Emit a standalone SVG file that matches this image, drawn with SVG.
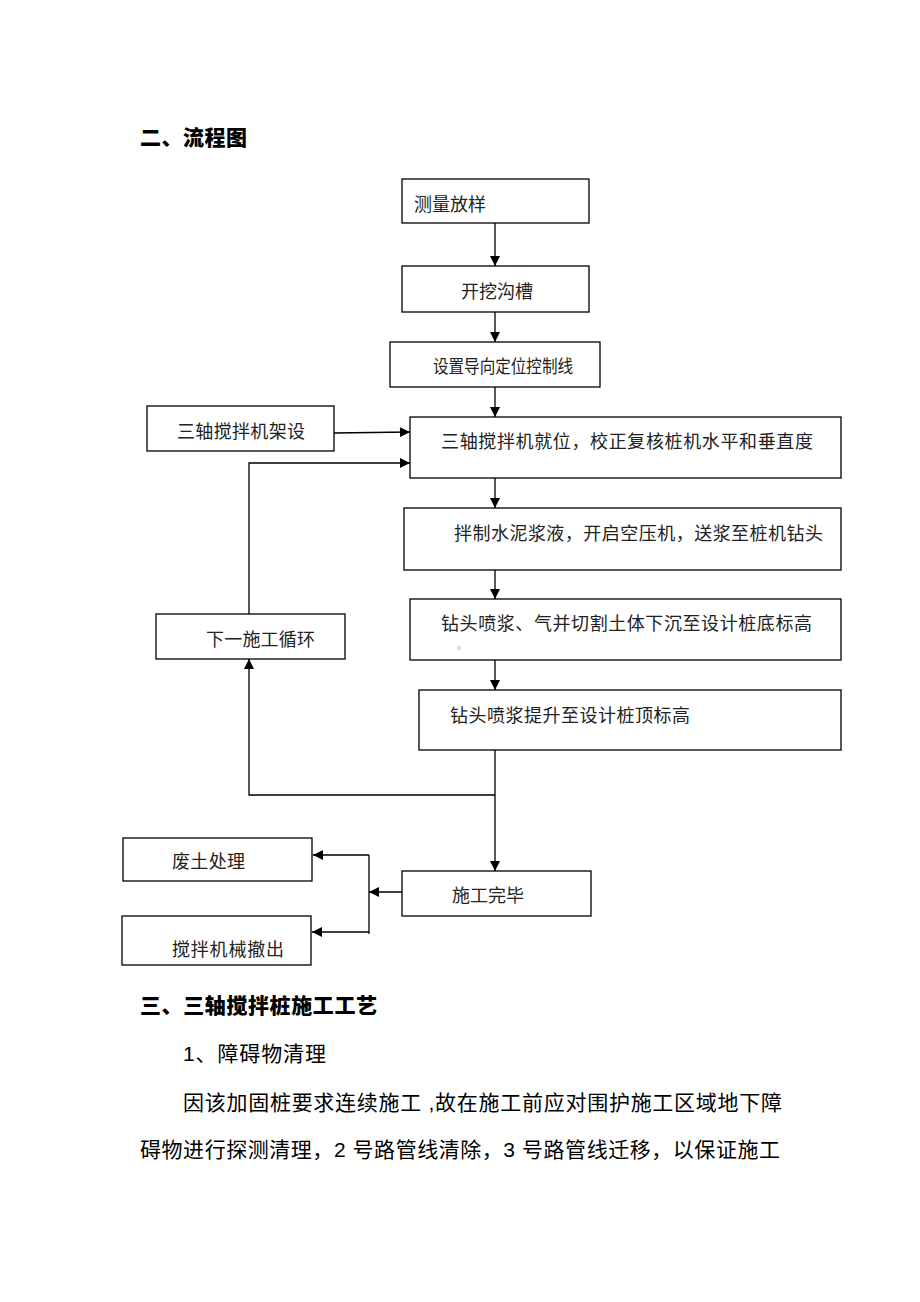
<svg xmlns="http://www.w3.org/2000/svg" width="920" height="1302" viewBox="0 0 920 1302">
<style>
.box{fill:#fff;stroke:#000;stroke-width:1.3}
.lbl{font-family:"Liberation Serif","Noto Sans CJK SC",serif;font-size:18px;fill:#222}
.hd{font-family:"Liberation Sans","Noto Sans CJK SC",sans-serif;font-size:21px;font-weight:900;fill:#000}
.body{font-family:"Liberation Sans","Noto Sans CJK SC",sans-serif;font-size:21px;fill:#000}
.ln{fill:none;stroke:#000;stroke-width:1.3}
</style>
<defs>
<marker id="ah" viewBox="0 0 10 10" refX="10" refY="5" markerWidth="11" markerHeight="10" markerUnits="userSpaceOnUse" orient="auto">
<path d="M0,0 L10,5 L0,10 z" fill="#000"/>
</marker>
</defs>
<rect width="920" height="1302" fill="#fff"/>
<text class="hd" x="140" y="145" textLength="107">二、流程图</text>

<g id="n1"><rect class="box" x="402" y="179" width="187" height="44"/><text class="lbl" x="414" y="211" textLength="72">测量放样</text></g>
<g id="n2"><rect class="box" x="402" y="266" width="187" height="46"/><text class="lbl" x="461" y="298" textLength="72">开挖沟槽</text></g>
<g id="n3"><rect class="box" x="390" y="342" width="210" height="45"/><text class="lbl" x="433" y="373" textLength="140" lengthAdjust="spacingAndGlyphs">设置导向定位控制线</text></g>
<g id="n4"><rect class="box" x="147" y="406" width="187" height="45"/><text class="lbl" x="177" y="438" textLength="128">三轴搅拌机架设</text></g>
<g id="n5"><rect class="box" x="410" y="417" width="431" height="61"/><text class="lbl" x="441" y="448" textLength="372">三轴搅拌机就位，校正复核桩机水平和垂直度</text></g>
<g id="n6"><rect class="box" x="404" y="508" width="437" height="62"/><text class="lbl" x="454" y="540" textLength="369">拌制水泥浆液，开启空压机，送浆至桩机钻头</text></g>
<g id="n7"><rect class="box" x="410" y="599" width="431" height="61"/><text class="lbl" x="441" y="630" textLength="371">钻头喷浆、气并切割土体下沉至设计桩底标高</text><rect x="457" y="646" width="4" height="4" fill="#ddd"/></g>
<g id="n8"><rect class="box" x="156" y="614" width="189" height="45"/><text class="lbl" x="206" y="646" textLength="109">下一施工循环</text></g>
<g id="n9"><rect class="box" x="419" y="690" width="422" height="60"/><text class="lbl" x="450" y="722" textLength="240">钻头喷浆提升至设计桩顶标高</text></g>
<g id="n10"><rect class="box" x="402" y="871" width="189" height="45"/><text class="lbl" x="452" y="902" textLength="72">施工完毕</text></g>
<g id="n11"><rect class="box" x="123" y="838" width="189" height="43"/><text class="lbl" x="172" y="868" textLength="73">废土处理</text></g>
<g id="n12"><rect class="box" x="122" y="916" width="189" height="49"/><text class="lbl" x="172" y="956" textLength="112">搅拌机械撤出</text></g>

<g id="connectors">
<line class="ln" x1="495" y1="223" x2="495" y2="266" marker-end="url(#ah)"/>
<line class="ln" x1="495" y1="312" x2="495" y2="342" marker-end="url(#ah)"/>
<line class="ln" x1="495" y1="387" x2="495" y2="417" marker-end="url(#ah)"/>
<line class="ln" x1="334" y1="433" x2="410" y2="432" marker-end="url(#ah)"/>
<polyline class="ln" points="249,614 249,463 410,463" marker-end="url(#ah)"/>
<line class="ln" x1="495" y1="478" x2="495" y2="508" marker-end="url(#ah)"/>
<line class="ln" x1="495" y1="570" x2="495" y2="599" marker-end="url(#ah)"/>
<line class="ln" x1="495" y1="660" x2="495" y2="690" marker-end="url(#ah)"/>
<polyline class="ln" points="495,795 249,795 249,659" marker-end="url(#ah)"/>
<line class="ln" x1="495" y1="750" x2="495" y2="871" marker-end="url(#ah)"/>
<line class="ln" x1="402" y1="892" x2="369" y2="892" marker-end="url(#ah)"/>
<line class="ln" x1="369" y1="855" x2="369" y2="934"/>
<line class="ln" x1="369" y1="855" x2="313" y2="855" marker-end="url(#ah)"/>
<line class="ln" x1="369" y1="932" x2="312" y2="932" marker-end="url(#ah)"/>
</g>

<text class="hd" x="140" y="1013" textLength="237">三、三轴搅拌桩施工工艺</text>
<text class="body" x="183" y="1061" textLength="143">1、障碍物清理</text>
<text class="body" x="183" y="1110" textLength="599">因该加固桩要求连续施工 ,故在施工前应对围护施工区域地下障</text>
<text class="body" x="140" y="1157" textLength="640">碍物进行探测清理，2 号路管线清除，3 号路管线迁移，以保证施工</text>
</svg>
